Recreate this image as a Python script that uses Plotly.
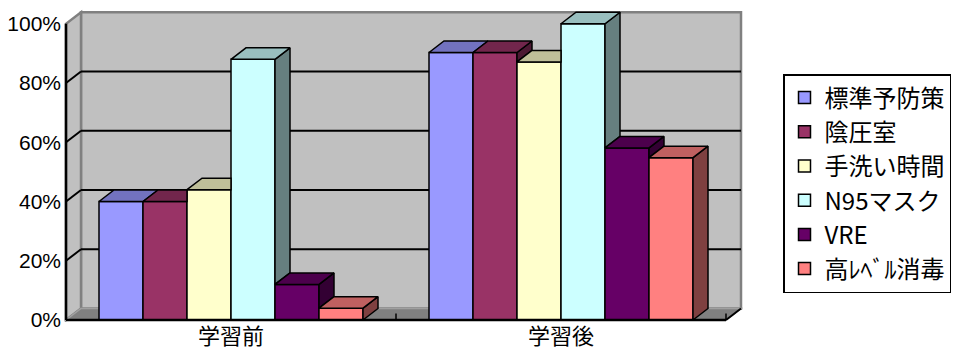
import plotly.graph_objects as go

# ---- data ----
categories = ["学習前", "学習後"]
series_names = ["標準予防策", "陰圧室", "手洗い時間", "N95マスク", "VRE", "高ﾚﾍﾞﾙ消毒"]
values_before = [40, 40, 44, 88, 12, 4]
values_after = [90.3, 90.3, 87.1, 100, 58.1, 54.8]
series_colors = ["#9999FF", "#993366", "#FFFFCC", "#CCFFFF", "#660066", "#FF8080"]
ytick_vals = [0, 20, 40, 60, 80, 100]
ytick_text = ["0%", "20%", "40%", "60%", "80%", "100%"]

# ---- geometry (styling) ----
W, H = 957, 350
PX_PER_CAT = 330.0
PX_PER_PCT = 2.9625
L, R, T, B = 56, 207, 6, 28
x0_px_front = 66  # pixel of x=0
xr_lo = -(x0_px_front - L) / PX_PER_CAT
xr_hi = xr_lo + (W - L - R) / PX_PER_CAT
y_lo = -(H - B - 320) / PX_PER_PCT
y_hi = y_lo + (H - T - B) / PX_PER_PCT

DX = 15 / PX_PER_CAT       # depth offset in category units
DY = 11.5 / PX_PER_PCT     # depth offset in percent units
GAP = 0.1
BW = (1 - 2 * GAP) / len(series_names)
NCAT = len(categories)


def shade(hexcol, f):
    h = hexcol.lstrip("#")
    r, g, b = (int(h[i:i + 2], 16) for i in (0, 2, 4))
    return "#%02X%02X%02X" % (int(r * f), int(g * f), int(b * f))


fig = go.Figure()

data_by_cat = [values_before, values_after]

# front faces (bars) -> legend entries
for i, name in enumerate(series_names):
    fig.add_trace(go.Bar(
        x=[c + GAP + i * BW + BW / 2 for c in range(NCAT)],
        y=[data_by_cat[c][i] for c in range(NCAT)],
        width=BW,
        name=name,
        legendgroup=str(i),
        marker=dict(color=series_colors[i], line=dict(color="black", width=1.5)),
        hoverinfo="skip",
    ))

# top and side faces
for c in range(NCAT):
    vals = data_by_cat[c]
    for i in range(len(series_names)):
        xl = c + GAP + i * BW
        xr = xl + BW
        h = vals[i]
        hn = vals[i + 1] if i + 1 < len(vals) else 0
        col = series_colors[i]
        # side face
        if hn < h:
            xs = [xr, xr + DX, xr + DX, xr, xr]
            ys = [hn, hn + DY, h + DY, h, hn]
            fig.add_trace(go.Scatter(x=xs, y=ys, mode="lines", fill="toself",
                                     fillcolor=shade(col, 0.5),
                                     line=dict(color="black", width=1.5),
                                     showlegend=False, hoverinfo="skip"))
        # top face
        if hn > h:
            xs = [xl, xr, xr, xl + DX, xl]
            ys = [h, h, h + DY, h + DY, h]
        else:
            xs = [xl, xr, xr + DX, xl + DX, xl]
            ys = [h, h, h + DY, h + DY, h]
        fig.add_trace(go.Scatter(x=xs, y=ys, mode="lines", fill="toself",
                                 fillcolor=shade(col, 0.75),
                                 line=dict(color="black", width=1.5),
                                 showlegend=False, hoverinfo="skip"))

shapes = []
# back wall
shapes.append(dict(type="rect", xref="x", yref="y", x0=DX, x1=NCAT + DX, y0=DY, y1=100 + DY,
                   fillcolor="#C0C0C0", line=dict(color="#808080", width=2.5), layer="below"))
# left wall
shapes.append(dict(type="path", xref="x", yref="y",
                   path=f"M 0,0 L {DX},{DY} L {DX},{100 + DY} L 0,100 Z",
                   fillcolor="#C0C0C0", line=dict(color="#808080", width=2.5), layer="below"))
# floor
shapes.append(dict(type="path", xref="x", yref="y",
                   path=f"M 0,0 L {NCAT},0 L {NCAT + DX},{DY} L {DX},{DY} Z",
                   fillcolor="#808080", line=dict(color="#A0A0A0", width=1.5), layer="below"))
# gridlines on back and left wall
for v in ytick_vals[1:-1]:
    shapes.append(dict(type="line", xref="x", yref="y", x0=DX, x1=NCAT + DX, y0=v + DY, y1=v + DY,
                       line=dict(color="black", width=2), layer="below"))
    shapes.append(dict(type="line", xref="x", yref="y", x0=0, x1=DX, y0=v, y1=v + DY,
                       line=dict(color="black", width=2), layer="below"))
# front axis lines
shapes.append(dict(type="line", xref="x", yref="y", x0=0, x1=0, y0=0, y1=100,
                   line=dict(color="black", width=2.5), layer="above"))
shapes.append(dict(type="line", xref="x", yref="y", x0=0, x1=NCAT, y0=0, y1=0,
                   line=dict(color="black", width=2.5), layer="above"))
shapes.append(dict(type="line", xref="x", yref="y", x0=NCAT, x1=NCAT + DX, y0=0, y1=DY,
                   line=dict(color="black", width=2), layer="above"))
for c in range(1, NCAT + 1):
    shapes.append(dict(type="line", xref="x", yref="y", x0=c, x1=c, y0=0, y1=2.2,
                       line=dict(color="black", width=1.5), layer="above"))

fig.update_layout(
    width=W, height=H,
    margin=dict(l=L, r=R, t=T, b=B, pad=0, autoexpand=False),
    paper_bgcolor="white", plot_bgcolor="white",
    barmode="overlay",
    shapes=shapes,
    showlegend=True,
    legend=dict(
        x=(783 - L) / (W - L - R), xanchor="left",
        y=(H - B - 74) / (H - T - B), yanchor="top",
        bgcolor="white", bordercolor="black", borderwidth=1.5,
        font=dict(family="Noto Sans CJK JP", size=24, color="black"),
        tracegroupgap=5, traceorder="normal",
    ),
    xaxis=dict(range=[xr_lo, xr_hi], showgrid=False, zeroline=False, showline=False,
               automargin=False,
               tickvals=[c + 0.5 for c in range(NCAT)], ticktext=categories, ticks="",
               ticklabelstandoff=-1,
               tickfont=dict(family="Noto Sans CJK JP", size=22, color="black")),
    yaxis=dict(range=[y_lo, y_hi], showgrid=False, zeroline=False, showline=False,
               automargin=False,
               tickvals=ytick_vals, ticktext=ytick_text, ticks="",
               ticklabelstandoff=-6,
               tickfont=dict(family="Liberation Sans", size=21, color="black")),
)

fig.write_html("out.html")
